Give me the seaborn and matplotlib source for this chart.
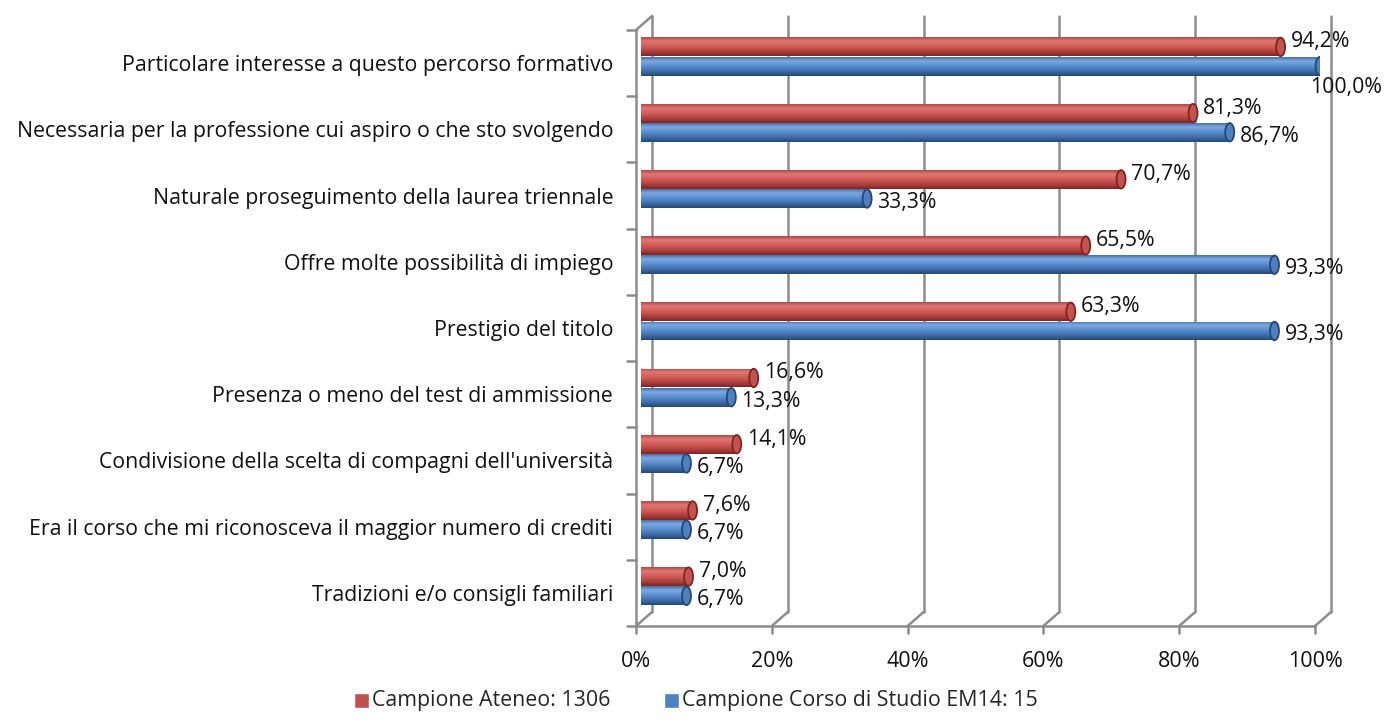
import numpy as np
import pandas as pd
import matplotlib
matplotlib.use('Agg')
import matplotlib.pyplot as plt
import matplotlib.transforms as mtransforms
from matplotlib.colors import LinearSegmentedColormap
from matplotlib.patches import Ellipse, Rectangle
import seaborn as sns

# dati
categories = [
    'Particolare interesse a questo percorso formativo',
    'Necessaria per la professione cui aspiro o che sto svolgendo',
    'Naturale proseguimento della laurea triennale',
    'Offre molte possibilità di impiego',
    'Prestigio del titolo',
    'Presenza o meno del test di ammissione',
    "Condivisione della scelta di compagni dell'università",
    'Era il corso che mi riconosceva il maggior numero di crediti',
    'Tradizioni e/o consigli familiari',
]
series_names = ['Campione Ateneo: 1306', 'Campione Corso di Studio EM14: 15']
ateneo = [94.2, 81.3, 70.7, 65.5, 63.3, 16.6, 14.1, 7.6, 7.0]
corso = [100.0, 86.7, 33.3, 93.3, 93.3, 13.3, 6.7, 6.7, 6.7]
x_ticks = [0, 20, 40, 60, 80, 100]
x_tick_labels = ['0%', '20%', '40%', '60%', '80%', '100%']

df = pd.DataFrame({
    'categoria': categories * 2,
    'serie': [series_names[0]] * len(categories) + [series_names[1]] * len(categories),
    'valore': ateneo + corso,
})

sns.set_theme(style='white')
plt.rcParams['font.family'] = ['Open Sans', 'DejaVu Sans']
TXT = '#111111'
GRID = '#8c8c8c'

W, H = 1385, 722
fig = plt.figure(figsize=(W / 100, H / 100), dpi=100)
renderer = fig.canvas.get_renderer()


def fit_size(s, target_px, base=14.0):
    # dimensione del font che dà la larghezza voluta in pixel
    t = fig.text(0, 0, s, fontsize=base)
    w = t.get_window_extent(renderer).width
    t.remove()
    return base * target_px / w


FS_CAT = fit_size(categories[1], 598)
FS_VAL = fit_size('70,7%', 60)
FS_TICK = fit_size('100%', 55)
FS_LEG = fit_size(series_names[0], 240)


def px_rect(l, t, r, b):
    return [l / W, 1 - b / H, (r - l) / W, (b - t) / H]


ax = fig.add_axes(px_rect(641, 30, 1320, 626))

palette = ['#C0504D', '#4F81BD']
sns.barplot(data=df, y='categoria', x='valore', hue='serie', orient='h',
            palette=palette, saturation=1, width=0.58, gap=0.02, ax=ax, zorder=3)
ax.set_xlim(0, 100)
ax.set_ylim(len(categories) - 0.5, -0.5)
sns.despine(ax=ax, left=True, bottom=True, top=True, right=True)
ax.set_xlabel('')
ax.set_ylabel('')

# trasformazioni per l'effetto 3D (piano frontale e parete di fondo)
dpi_tr = fig.dpi_scale_trans
ident = mtransforms.IdentityTransform()
xdata_yaxes = mtransforms.blended_transform_factory(ax.transData, ax.transAxes)
front = xdata_yaxes + mtransforms.ScaledTranslation(-0.05, 0, dpi_tr)
back = xdata_yaxes + mtransforms.ScaledTranslation(0.11, 0.14, dpi_tr)

line_kw = dict(color=GRID, lw=1.8, clip_on=False, zorder=1)
for t in x_ticks:
    ax.plot([t, t], [0, 1], transform=back, **line_kw)
    p0 = back.transform((t, 0))
    p1 = front.transform((t, 0))
    ax.plot([p0[0], p1[0]], [p0[1], p1[1]], transform=ident, **line_kw)
    # tacche sull'asse x
    ax.plot([p1[0], p1[0]], [p1[1], p1[1] - 7], transform=ident, **line_kw)

# pavimento e asse sinistro frontale
ax.plot([0, 100], [0, 0], transform=front, **line_kw)
ax.plot([0, 0], [0, 1], transform=front, **line_kw)
pt = front.transform((0, 1))
pb = back.transform((0, 1))
ax.plot([pt[0], pb[0]], [pt[1], pb[1]], transform=ident, **line_kw)

# tacche sull'asse y ai confini delle categorie
yaxes_ydata = mtransforms.blended_transform_factory(ax.transAxes, ax.transData)
for b in np.arange(-0.5, len(categories), 1.0):
    q = yaxes_ydata.transform((0, b))
    ax.plot([q[0] - 14, q[0] - 5], [q[1], q[1]], transform=ident, **line_kw)

# cilindri: sfumatura e tappo
shades = [
    ['#b04744', '#de7875', '#d8645f', '#c4524e', '#a83b38', '#7e2523'],
    ['#4470aa', '#7ea8df', '#6396d4', '#4d80bf', '#3a66a0', '#254873'],
]
cap_w = 9 / 6.79
grad = np.linspace(0, 1, 64).reshape(-1, 1)
for ci, container in enumerate(ax.containers):
    cmap = LinearSegmentedColormap.from_list(f'cyl{ci}', shades[ci])
    for bar in container:
        bar.set_y(bar.get_y() - 0.1)
        x0, y0 = bar.get_x(), bar.get_y()
        w, h = bar.get_width(), bar.get_height()
        bar.set_edgecolor('none')
        img = ax.imshow(grad, cmap=cmap, aspect='auto', origin='upper',
                        extent=(x0, x0 + w, y0 + h, y0), zorder=3.1,
                        interpolation='bilinear')
        img.set_clip_path(Rectangle((x0, y0), w, h, transform=ax.transData))
        left = Ellipse((x0, y0 + h / 2), cap_w, h, facecolor=shades[ci][3],
                       edgecolor='none', zorder=3.05)
        ax.add_patch(left)
        lg = ax.imshow(grad, cmap=cmap, aspect='auto', origin='upper',
                       extent=(x0 - cap_w / 2, x0 + 0.01, y0 + h, y0), zorder=3.1,
                       interpolation='bilinear')
        lg.set_clip_path(left)
        cap = Ellipse((x0 + w, y0 + h / 2), cap_w, h * 0.98, facecolor=shades[ci][3],
                      edgecolor=shades[ci][5], lw=1.3, zorder=3.2)
        ax.add_patch(cap)

ax.set_xlim(0, 100)
ax.set_ylim(len(categories) - 0.5, -0.5)

# etichette dei valori
for ci, (container, vals) in enumerate(zip(ax.containers, [ateneo, corso])):
    for bar, v in zip(container, vals):
        yc = bar.get_y() + bar.get_height() / 2
        if v >= 99.5:
            off = (-10, -21)
        elif ci == 0:
            off = (10, 5)
        else:
            off = (10, -4)
        ax.annotate(f'{v:.1f}%'.replace('.', ','), xy=(v, yc), xytext=off,
                    textcoords='offset pixels', ha='left', va='center',
                    fontsize=FS_VAL, color=TXT, zorder=5, annotation_clip=False)

# assi
ax.set_xticks(x_ticks)
ax.set_xticklabels(x_tick_labels)
ax.tick_params(axis='x', length=0, pad=18, labelsize=FS_TICK, colors=TXT)
ax.tick_params(axis='y', length=0, pad=20, labelsize=FS_CAT, colors=TXT)
for lab in ax.get_xticklabels():
    lab.set_transform(lab.get_transform() + mtransforms.ScaledTranslation(-0.05, 0, dpi_tr))

leg_px = FS_LEG * 100 / 72
sns.move_legend(ax, 'lower center', bbox_to_anchor=(696 / W, -0.012), bbox_transform=fig.transFigure,
                ncol=2, frameon=False, title=None, fontsize=FS_LEG, handlelength=13 / leg_px,
                handleheight=13 / leg_px, handletextpad=5 / leg_px, columnspacing=54 / leg_px)
for h in ax.get_legend().legend_handles:
    h.set_width(10.5)
    h.set_height(10.5)
    h.set_y(-1)

fig.savefig('out.png', dpi=100, facecolor='white')
